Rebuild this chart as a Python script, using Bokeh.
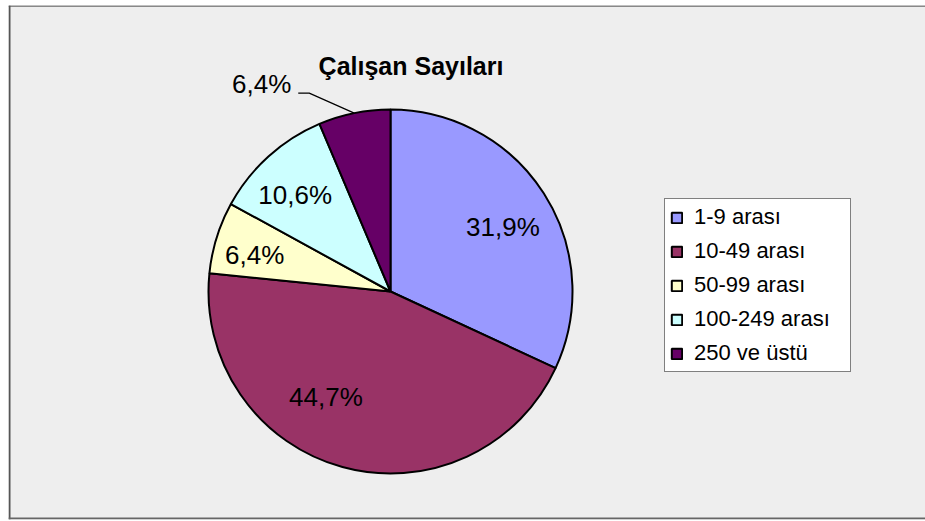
import numpy as np
from bokeh.plotting import figure
from bokeh.models import ColumnDataSource, Range1d, Legend, LegendItem, Label, Span
from bokeh.core.properties import value
from bokeh.embed import file_html
from bokeh.resources import INLINE

# ---------------- data ----------------
title_text = "Çalışan Sayıları"
categories = ["1-9 arası", "10-49 arası", "50-99 arası", "100-249 arası", "250 ve üstü"]
counts = [15, 21, 3, 5, 3]
colors = ["#9999FF", "#993366", "#FFFFCC", "#CCFFFF", "#660066"]

# ---------------- layout ----------------
PW, PH = 925, 521          # whole figure
FL, FT, FB = 8, 5, 2       # frame offsets (left, top, bottom)
FW, FH = PW - FL, PH - FT - FB
FONT = "Liberation Sans"


def yi(y_img):
    """convert a page y (top-down) into the frame's upward data y"""
    return (PH - FB) - y_img


CX, CY, R = 390, yi(291), 182
LABEL_R = 131
label_nudge = [(2, -5.5), (-30, 20.7), (-10.7, -2.1), (-7.4, -0.3)]
outside_index = 4
leader_elbow = (-45, 20)
leader_tail = 11

# ---------------- computations ----------------
frac = np.array(counts, dtype=float) / sum(counts)
cum = np.concatenate([[0.0], np.cumsum(frac)])
start = np.pi / 2 - cum[:-1] * 2 * np.pi
end = np.pi / 2 - cum[1:] * 2 * np.pi
mid = (start + end) / 2
pct = [f"{f * 100:.1f}".replace(".", ",") + "%" for f in frac]

src = ColumnDataSource(dict(start=start, end=end, color=colors, cat=categories))

p = figure(width=PW, height=PH, x_range=Range1d(FL, PW), y_range=Range1d(0, FH),
           output_backend="svg", toolbar_location=None,
           min_border_left=FL, min_border_top=FT, min_border_bottom=FB, min_border_right=0,
           x_axis_location=None, y_axis_location=None)
p.grid.visible = False
p.background_fill_color = "#EEEEEE"
p.border_fill_color = "white"
p.outline_line_color = None

r = p.wedge(x=CX, y=CY, radius=R, start_angle="start", end_angle="end",
            direction="clock", fill_color="color", line_color="black",
            line_width=2, source=src)

# inside labels
lx, ly, lt = [], [], []
for i in range(len(counts)):
    if i == outside_index:
        continue
    dx, dy = label_nudge[len(lx)]
    lx.append(CX + LABEL_R * np.cos(mid[i]) + dx)
    ly.append(CY + LABEL_R * np.sin(mid[i]) + dy)
    lt.append(pct[i])
p.text(x=lx, y=ly, text=lt, text_align="center", text_baseline="middle",
       text_font=value(FONT), text_font_size="26px", text_color="black")

# outside label with leader line
m = mid[outside_index]
ex, ey = CX + R * np.cos(m), CY + R * np.sin(m)
bx, by = ex + leader_elbow[0], ey + leader_elbow[1]
tx, ty = bx - leader_tail, by
p.line(x=[ex, bx, tx], y=[ey, by, ty], line_color="black", line_width=1.2)
p.text(x=[tx - 7], y=[ty + 9.5], text=[pct[outside_index]], text_align="right",
       text_baseline="middle", text_font=value(FONT), text_font_size="26px",
       text_color="black")

# title
p.add_layout(Label(x=410.5, y=yi(65), text=title_text, text_align="center",
                   text_baseline="middle", text_font=FONT, text_font_size="25px",
                   text_font_style="bold", text_color="black"))

# legend
legend = Legend(items=[LegendItem(label=c, renderers=[r], index=i) for i, c in enumerate(categories)],
                location=(664 - FL, (PH - FB) - 372), orientation="vertical",
                label_text_font=FONT, label_text_font_size="22px", label_text_color="black",
                glyph_width=13, glyph_height=13, label_standoff=11, label_height=25,
                label_width=151, spacing=8, padding=5, margin=0,
                border_line_color="black", border_line_width=1,
                background_fill_color="white", background_fill_alpha=1.0)
p.add_layout(legend)

# chart border
p.add_layout(Span(location=FH - 0.5, dimension="width", line_color="#222222", line_width=1))
p.add_layout(Span(location=FL + 1, dimension="height", line_color="#555555", line_width=2))
p.add_layout(Span(location=1, dimension="width", line_color="#666666", line_width=2))

open("out.html", "w").write(file_html(p, INLINE))
